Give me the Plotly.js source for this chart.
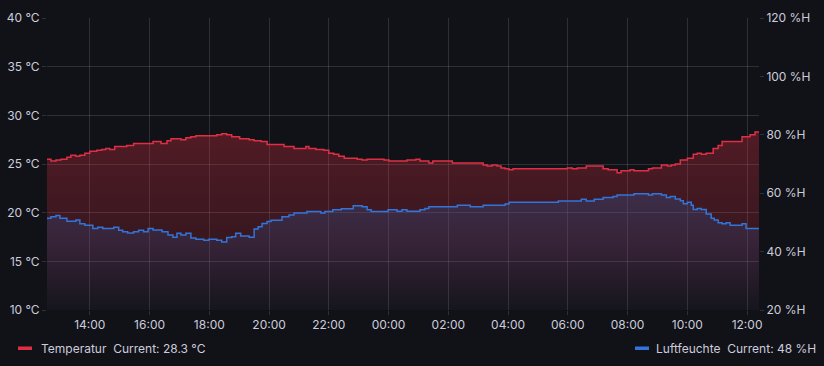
<!DOCTYPE html>
<html>
<head>
<meta charset="utf-8">
<script src="https://cdn.plot.ly/plotly-3.0.1.min.js"></script>
<style>
  html, body { margin: 0; padding: 0; background: #111217; }
  #chart { width: 824px; height: 366px; }
</style>
</head>
<body>
<div id="chart"></div>
<script>
// ---- Data ----
const tempTimes = [
  '2024-06-15 12:34','2024-06-15 12:42','2024-06-15 12:52','2024-06-15 13:02','2024-06-15 13:14',
  '2024-06-15 13:22','2024-06-15 13:32','2024-06-15 13:40','2024-06-15 13:50','2024-06-15 14:00',
  '2024-06-15 14:14','2024-06-15 14:24','2024-06-15 14:32','2024-06-15 14:40','2024-06-15 14:50',
  '2024-06-15 15:14','2024-06-15 15:28','2024-06-15 16:07','2024-06-15 16:23','2024-06-15 16:35',
  '2024-06-15 16:43','2024-06-15 17:03','2024-06-15 17:13','2024-06-15 17:23','2024-06-15 17:33',
  '2024-06-15 18:15','2024-06-15 18:25','2024-06-15 18:35','2024-06-15 18:45','2024-06-15 19:01',
  '2024-06-15 19:20','2024-06-15 19:30','2024-06-15 19:44','2024-06-15 19:56','2024-06-15 20:30',
  '2024-06-15 20:50','2024-06-15 21:14','2024-06-15 21:20','2024-06-15 21:34','2024-06-15 21:50',
  '2024-06-15 22:00','2024-06-15 22:10','2024-06-15 22:20','2024-06-15 22:31','2024-06-15 22:57',
  '2024-06-15 23:07','2024-06-15 23:17','2024-06-15 23:51','2024-06-16 00:01','2024-06-16 00:37',
  '2024-06-16 00:55','2024-06-16 01:03','2024-06-16 01:21','2024-06-16 01:29','2024-06-16 02:08',
  '2024-06-16 03:10','2024-06-16 03:18','2024-06-16 03:28','2024-06-16 03:38','2024-06-16 03:46',
  '2024-06-16 03:54','2024-06-16 04:02','2024-06-16 04:10','2024-06-16 05:59','2024-06-16 06:09',
  '2024-06-16 06:19','2024-06-16 06:37','2024-06-16 07:11','2024-06-16 07:21','2024-06-16 07:39',
  '2024-06-16 07:47','2024-06-16 08:05','2024-06-16 08:13','2024-06-16 08:42','2024-06-16 08:50',
  '2024-06-16 09:08','2024-06-16 09:20','2024-06-16 09:28','2024-06-16 09:36','2024-06-16 09:46',
  '2024-06-16 10:00','2024-06-16 10:12','2024-06-16 10:20','2024-06-16 10:28','2024-06-16 10:38',
  '2024-06-16 10:52','2024-06-16 11:02','2024-06-16 11:10','2024-06-16 11:50','2024-06-16 12:06',
  '2024-06-16 12:16','2024-06-16 12:24'
];
const tempValues = [
  25.5, 25.3, 25.4, 25.5, 25.7,
  25.9, 25.8, 25.9, 26.1, 26.3,
  26.4, 26.5, 26.6, 26.5, 26.8,
  26.9, 27.1, 27.3, 27.1, 27.4,
  27.6, 27.5, 27.7, 27.8, 27.9,
  28.0, 28.1, 28.0, 27.8, 27.6,
  27.5, 27.4, 27.3, 27.0, 26.8,
  26.6, 26.8, 26.6, 26.5, 26.4,
  26.1, 26.0, 25.8, 25.6, 25.5,
  25.4, 25.5, 25.4, 25.3, 25.4,
  25.5, 25.3, 25.1, 25.3, 25.1,
  24.9, 24.8, 24.9, 24.8, 24.6,
  24.5, 24.4, 24.5, 24.6, 24.5,
  24.6, 24.8, 24.5, 24.4, 24.1,
  24.3, 24.4, 24.3, 24.5, 24.6,
  24.9, 24.8, 24.9, 25.0, 25.4,
  25.6, 26.0, 26.1, 26.0, 26.1,
  26.6, 26.9, 27.3, 27.8, 28.0,
  28.3, 28.3
];

const humTimes = [
  '2024-06-15 12:34','2024-06-15 12:42','2024-06-15 12:52','2024-06-15 13:00','2024-06-15 13:14',
  '2024-06-15 13:32','2024-06-15 13:40','2024-06-15 13:50','2024-06-15 14:06','2024-06-15 14:16',
  '2024-06-15 14:26','2024-06-15 14:48','2024-06-15 14:58','2024-06-15 15:06','2024-06-15 15:16',
  '2024-06-15 15:28','2024-06-15 15:38','2024-06-15 15:48','2024-06-15 15:57','2024-06-15 16:07',
  '2024-06-15 16:25','2024-06-15 16:37','2024-06-15 16:47','2024-06-15 16:55','2024-06-15 17:03',
  '2024-06-15 17:13','2024-06-15 17:23','2024-06-15 17:33','2024-06-15 17:49','2024-06-15 17:59',
  '2024-06-15 18:15','2024-06-15 18:25','2024-06-15 18:35','2024-06-15 18:45','2024-06-15 18:53',
  '2024-06-15 19:03','2024-06-15 19:20','2024-06-15 19:30','2024-06-15 19:38','2024-06-15 19:46',
  '2024-06-15 19:56','2024-06-15 20:04','2024-06-15 20:26','2024-06-15 20:40','2024-06-15 20:50',
  '2024-06-15 21:16','2024-06-15 21:44','2024-06-15 21:52','2024-06-15 22:08','2024-06-15 22:25',
  '2024-06-15 22:49','2024-06-15 23:07','2024-06-15 23:17','2024-06-15 23:25','2024-06-15 23:59',
  '2024-06-16 00:17','2024-06-16 00:27','2024-06-16 00:37','2024-06-16 01:03','2024-06-16 01:13',
  '2024-06-16 01:21','2024-06-16 02:18','2024-06-16 02:44','2024-06-16 03:10','2024-06-16 03:54',
  '2024-06-16 04:02','2024-06-16 05:41','2024-06-16 06:27','2024-06-16 06:37','2024-06-16 06:53',
  '2024-06-16 07:11','2024-06-16 07:31','2024-06-16 07:39','2024-06-16 08:13','2024-06-16 08:42',
  '2024-06-16 08:50','2024-06-16 09:08','2024-06-16 09:18','2024-06-16 09:26','2024-06-16 09:36',
  '2024-06-16 09:46','2024-06-16 09:52','2024-06-16 10:00','2024-06-16 10:08','2024-06-16 10:12',
  '2024-06-16 10:20','2024-06-16 10:28','2024-06-16 10:38','2024-06-16 10:48','2024-06-16 10:54',
  '2024-06-16 11:02','2024-06-16 11:10','2024-06-16 11:18','2024-06-16 11:26','2024-06-16 11:50',
  '2024-06-16 11:58','2024-06-16 12:24'
];
const humValues = [
  51.4, 51.9, 52.4, 51.4, 50.4,
  50.8, 49.5, 49.0, 47.9, 48.3,
  47.9, 48.3, 47.3, 46.8, 46.4,
  46.8, 47.3, 46.8, 47.9, 47.4,
  46.8, 45.7, 44.9, 46.3, 45.7,
  46.3, 44.7, 44.2, 43.9, 44.2,
  43.9, 43.3, 44.8, 45.1, 46.3,
  45.3, 44.9, 47.7, 48.5, 49.6,
  50.3, 50.7, 51.9, 52.5, 53.2,
  53.7, 53.2, 53.7, 54.3, 54.7,
  55.7, 55.4, 54.3, 53.7, 54.3,
  53.8, 54.3, 53.8, 54.3, 54.8,
  55.4, 55.9, 55.4, 55.9, 56.3,
  56.9, 57.3, 57.9, 57.3, 57.9,
  58.5, 58.9, 59.4, 59.8, 59.4,
  59.8, 59.4, 58.5, 58.9, 58.0,
  57.4, 56.4, 56.9, 55.9, 54.4,
  54.8, 54.4, 52.9, 51.4, 50.8,
  49.9, 49.5, 49.9, 49.0, 49.5,
  47.9, 47.9
];

const tempName = 'Temperatur';
const humName = 'Luftfeuchte';
const tempUnit = '°C';
const humUnit = '%H';
const xRange = ['2024-06-15 12:34', '2024-06-16 12:24'];

// ---- Styling ----
const BG = '#111217';
const TXT = '#ccccdc';
const GRID = 'rgba(204,204,220,0.16)';
const RED = '#e02f44';
const BLUE = '#3274d9';
const FONT = 'Inter, "Noto Sans", sans-serif';

const traces = [
  {
    x: tempTimes, y: tempValues, name: tempName, type: 'scatter', mode: 'lines',
    line: { color: RED, width: 1.5, shape: 'hv' },
    fill: 'tozeroy',
    fillgradient: {
      type: 'vertical', start: 10, stop: 28.3,
      colorscale: [[0, 'rgba(224,47,68,0.0)'], [0.4, 'rgba(224,47,68,0.19)'], [1, 'rgba(224,47,68,0.31)']]
    },
    yaxis: 'y', showlegend: false, hoverinfo: 'skip'
  },
  {
    x: humTimes, y: humValues, name: humName, type: 'scatter', mode: 'lines',
    line: { color: BLUE, width: 1.5, shape: 'hv' },
    fill: 'tozeroy',
    fillgradient: {
      type: 'vertical', start: 20, stop: 60,
      colorscale: [[0, 'rgba(70,70,120,0.07)'], [0.35, 'rgba(60,80,150,0.14)'], [0.85, 'rgba(45,90,160,0.27)'], [1, 'rgba(45,90,160,0.30)']]
    },
    yaxis: 'y2', showlegend: false, hoverinfo: 'skip'
  }
];

// legend (built from the data's last values)
const W = 712, H = 292, L = 47, T = 18;
const px = v => (v - L) / W;
const py = v => (T + H - v) / H;
const tempCur = tempValues[tempValues.length - 1].toFixed(1);
const humCur = Math.round(humValues[humValues.length - 1]);

const layout = {
  width: 824, height: 366,
  paper_bgcolor: BG, plot_bgcolor: BG,
  margin: { l: 47, r: 65, t: 18, b: 56 },
  font: { family: FONT, size: 12, color: TXT },
  showlegend: false,
  xaxis: {
    type: 'date', range: xRange,
    tickformat: '%H:%M', dtick: 7200000, tick0: '2024-06-15 00:00',
    showgrid: true, gridcolor: GRID, gridwidth: 1,
    ticks: 'outside', ticklen: 4, tickcolor: GRID,
    showline: false, zeroline: false,
    tickfont: { family: FONT, size: 12, color: TXT }
  },
  yaxis: {
    range: [10, 40], dtick: 5, tick0: 10, ticksuffix: ' ' + tempUnit,
    showgrid: true, gridcolor: GRID, gridwidth: 1,
    ticks: 'outside', ticklen: 4, tickcolor: GRID,
    showline: false, zeroline: false,
    tickfont: { family: FONT, size: 12, color: TXT }
  },
  yaxis2: {
    range: [20, 120], dtick: 20, tick0: 20, ticksuffix: ' ' + humUnit,
    overlaying: 'y', side: 'right',
    showgrid: false, zeroline: false, showline: false,
    ticks: 'outside', ticklen: 4, tickcolor: GRID,
    tickfont: { family: FONT, size: 12, color: TXT }
  },
  shapes: [
    { type: 'rect', xref: 'paper', yref: 'paper', x0: px(18), x1: px(32), y0: py(346.5), y1: py(350), fillcolor: RED, line: { width: 0 } },
    { type: 'rect', xref: 'paper', yref: 'paper', x0: px(635), x1: px(649), y0: py(346.5), y1: py(350), fillcolor: BLUE, line: { width: 0 } }
  ],
  annotations: [
    { xref: 'paper', yref: 'paper', x: px(39), y: py(348), xanchor: 'left', yanchor: 'middle', showarrow: false,
      text: tempName + '&nbsp;&nbsp;Current: ' + tempCur + ' ' + tempUnit, font: { family: FONT, size: 12, color: TXT } },
    { xref: 'paper', yref: 'paper', x: px(654), y: py(348), xanchor: 'left', yanchor: 'middle', showarrow: false,
      text: humName + '&nbsp;&nbsp;Current: ' + humCur + ' ' + humUnit, font: { family: FONT, size: 12, color: TXT } }
  ]
};

Plotly.newPlot('chart', traces, layout, { displayModeBar: false, staticPlot: true });
</script>
</body>
</html>
